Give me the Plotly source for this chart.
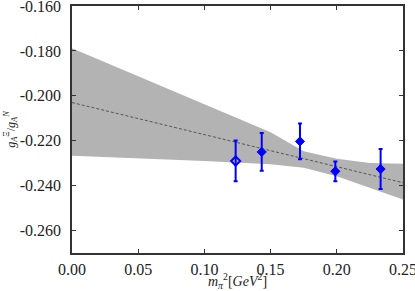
import plotly.graph_objects as go

# lattice data points
mpi2 = [0.1236, 0.1433, 0.1722, 0.1989, 0.2331]
ratio = [-0.2290, -0.2250, -0.2203, -0.2336, -0.2326]
ratio_err = [0.0091, 0.0084, 0.0080, 0.0044, 0.0089]
open_marker = [True, False, False, False, False]

# fit line
fit_x = [0.0, 0.25]
fit_y = [-0.2030, -0.2387]

# error band edges
band_x = [0.0, 0.05, 0.10, 0.15, 0.175, 0.20, 0.225, 0.25]
band_upper = [-0.1788, -0.1913, -0.2037, -0.2162, -0.2247, -0.2280, -0.2299, -0.2302]
band_lower = [-0.2267, -0.2278, -0.2290, -0.2305, -0.2320, -0.2358, -0.2409, -0.2462]

xticks = [0.00, 0.05, 0.10, 0.15, 0.20, 0.25]
yticks = [-0.260, -0.240, -0.220, -0.200, -0.180, -0.160]

fig = go.Figure()

fig.add_trace(go.Scatter(
    x=band_x + band_x[::-1],
    y=band_upper + band_lower[::-1],
    fill="toself", fillcolor="#b3b3b3",
    line=dict(width=0), mode="lines", hoverinfo="skip", showlegend=False))

fig.add_trace(go.Scatter(
    x=fit_x, y=fit_y, mode="lines",
    line=dict(color="#555555", width=1, dash="3px,2px"), showlegend=False))

symbols = ["diamond-open" if o else "diamond" for o in open_marker]
lw = [2 if o else 1 for o in open_marker]
fig.add_trace(go.Scatter(
    x=mpi2, y=ratio, mode="markers",
    marker=dict(symbol=symbols, size=7, color="#0000ff",
                line=dict(color="#0000ff", width=lw)),
    error_y=dict(type="data", array=ratio_err, visible=True,
                 color="#0000ff", thickness=2, width=2),
    showlegend=False))

font_fam = "Liberation Serif, DejaVu Serif, serif"

fig.update_layout(
    width=415, height=291,
    margin=dict(l=72, r=12, t=6, b=38, autoexpand=False),
    plot_bgcolor="white", paper_bgcolor="white",
    font=dict(family=font_fam, size=16, color="#222222"),
)
fig.update_xaxes(
    range=[0.0, 0.25], tickvals=xticks,
    ticktext=[f"{v:.2f}" for v in xticks],
    ticks="inside", ticklen=4, tickcolor="#333333",
    showline=True, linecolor="#333333", linewidth=1.5, mirror="ticks",
    showgrid=False, zeroline=False, automargin=False,
    ticklabelstandoff=1, ticklabeloverflow="allow",
    title=dict(text="<i>m</i><sub><i>π</i></sub><sup>2</sup>[<i>GeV</i><sup>2</sup>]",
               standoff=4, font=dict(size=14)),
)
fig.update_yaxes(
    range=[-0.27, -0.16], tickvals=yticks,
    ticktext=[f"{v:.3f}" for v in yticks],
    ticks="inside", ticklen=4, tickcolor="#333333",
    showline=True, linecolor="#333333", linewidth=1.5, mirror="ticks",
    showgrid=False, zeroline=False, automargin=False,
    ticklabelstandoff=6, ticklabeloverflow="allow",
    title=dict(text="<i>g</i><sub><i>A</i></sub><sup>Ξ</sup>/<i>g</i><sub><i>A</i></sub><sup><i>N</i></sup>",
               standoff=2, font=dict(size=12)),
)

fig.write_html("out.html", config={"displayModeBar": False},
               post_script="document.body.style.margin='0';")
